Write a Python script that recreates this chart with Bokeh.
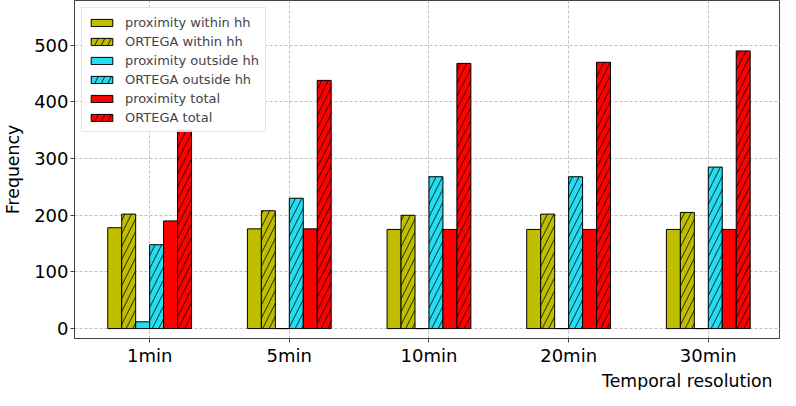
from bokeh.plotting import figure
from bokeh.models import ColumnDataSource, Legend, LegendItem, FixedTicker, Title
from bokeh.transform import dodge
from bokeh.embed import file_html
from bokeh.resources import INLINE

categories = ["1min", "5min", "10min", "20min", "30min"]
prox_within = [178, 176, 175, 175, 175]
ortega_within = [202, 208, 200, 202, 205]
prox_outside = [12, 0, 0, 0, 0]
ortega_outside = [148, 230, 268, 268, 285]
prox_total = [190, 176, 175, 175, 175]
ortega_total = [350, 438, 468, 470, 490]
y_ticks = [0, 100, 200, 300, 400, 500]

series = [
    ("proximity within hh", prox_within, "#bfbf00", None),
    ("ORTEGA within hh", ortega_within, "#bfbf00", "/"),
    ("proximity outside hh", prox_outside, "#25dcf0", None),
    ("ORTEGA outside hh", ortega_outside, "#25dcf0", "/"),
    ("proximity total", prox_total, "#ff0000", None),
    ("ORTEGA total", ortega_total, "#ff0000", "/"),
]

xs = list(range(len(categories)))
data = {"x": xs}
for i, (name, vals, _, _) in enumerate(series):
    data[f"s{i}"] = vals
source = ColumnDataSource(data)

p = figure(width=780, height=390, output_backend="svg", toolbar_location=None,
           x_range=(-0.538, 4.517), y_range=(-17.5, 579),
           min_border_left=64, min_border_right=0, min_border_top=0, min_border_bottom=0)

FONT = "DejaVu Sans"
offsets = [-0.25, -0.15, -0.05, 0.05, 0.15, 0.25]
items = []
for i, (name, vals, color, hatch) in enumerate(series):
    kw = dict(x=dodge("x", offsets[i]), top=f"s{i}", bottom=0, width=0.1, source=source,
              fill_color=color, line_color="black", line_width=1)
    if hatch:
        kw.update(hatch_pattern=hatch, hatch_color="black", hatch_weight=0.8, hatch_scale=13)
    r = p.vbar(**kw)
    items.append(LegendItem(label=name, renderers=[r]))

legend = Legend(items=items, location="top_left")
legend.label_text_font = FONT
legend.label_text_font_size = "13px"
legend.glyph_width = 27
legend.glyph_height = 9
legend.label_height = 16
legend.spacing = 3
legend.label_standoff = 10
legend.padding = 6
legend.margin = 7
legend.border_line_color = "#cccccc"
legend.background_fill_alpha = 0.85
p.add_layout(legend)

p.xaxis.ticker = FixedTicker(ticks=xs)
p.xaxis.major_label_overrides = {i: c for i, c in enumerate(categories)}
p.yaxis.ticker = FixedTicker(ticks=y_ticks)
for ax in (p.xaxis, p.yaxis):
    ax.major_label_text_font = FONT
    ax.major_label_text_font_size = "18px"
    ax.major_label_text_color = "black"
    ax.major_label_standoff = 2
    ax.major_tick_in = 0
    ax.major_tick_out = 4
    ax.minor_tick_line_color = None
    ax.axis_line_color = "#444444"
    ax.major_tick_line_color = "#444444"
p.yaxis.axis_label = "Frequency"
p.yaxis.axis_label_text_font = FONT
p.yaxis.axis_label_text_font_size = "17.3px"
p.yaxis.axis_label_text_font_style = "normal"
p.yaxis.axis_label_text_color = "black"
p.yaxis.axis_label_standoff = 8

p.add_layout(Title(text="Temporal resolution", align="right", text_font=FONT,
                   text_font_size="17.3px", text_font_style="normal", text_color="black",
                   standoff=0, offset=8), "below")

p.grid.grid_line_color = "#b0b0b0"
p.grid.grid_line_dash = "3 2"
p.grid.grid_line_width = 0.8
p.outline_line_color = "#444444"
p.outline_line_width = 1

open("out.html", "w").write(file_html(p, INLINE))
